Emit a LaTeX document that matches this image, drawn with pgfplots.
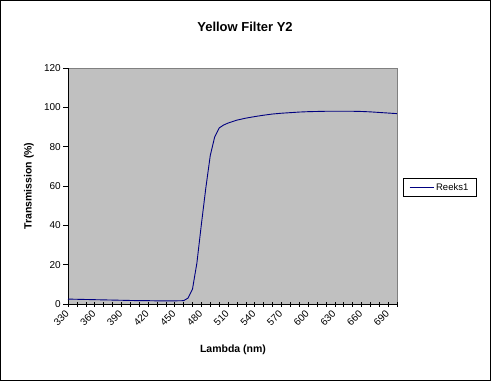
\documentclass[border=0pt]{standalone}
\usepackage{pgfplots}
\pgfplotsset{compat=1.18}
\usepackage{fontspec}
\setmainfont{Liberation Sans}
\definecolor{plotbg}{RGB}{192,192,192}
\definecolor{navyline}{RGB}{0,0,128}
\definecolor{bordergray}{RGB}{128,128,128}
\pgfplotstableread{
x y
330 2.5
340 2.4
350 2.3
360 2.2
370 2.1
380 2.0
390 1.9
400 1.8
410 1.7
420 1.7
430 1.6
440 1.6
450 1.6
460 1.7
465 3.0
470 7.5
475 21
480 40.5
485 59
490 75.5
495 85
500 89.5
505 91
510 92
520 93.5
530 94.5
540 95.3
550 96
560 96.6
570 97
580 97.3
590 97.6
600 97.8
610 97.9
620 98
630 98
640 98
650 98
660 97.9
670 97.7
680 97.4
690 97.1
700 96.8
}\datatable
\begin{document}
\begin{tikzpicture}[x=1pt,y=1pt]
\path[use as bounding box] (0,0) rectangle (491,-381);
\draw[black, line width=0.8pt] (0.5,-0.5) rectangle (490.5,-380.5);
\begin{axis}[
  at={(68pt,-304pt)}, anchor=south west,
  scale only axis, width=329pt, height=236pt,
  xmin=330, xmax=700, ymin=0, ymax=120,
  xtick={330,360,...,690}, minor xtick={330,340,...,700},
  ytick={0,20,...,120},
  axis x line*=bottom, axis y line*=left,
  axis line style={-, black, line width=0.6pt},
  axis background/.style={fill=plotbg, draw=bordergray, line width=0.6pt},
  xtick align=center, ytick align=outside,
  major tick length=5pt, minor tick length=5pt,
  every tick/.style={black, line width=0.5pt},
  tick label style={font=\fontsize{10}{12}\selectfont},
  xticklabel style={rotate=45, anchor=east, inner sep=1pt},
  xticklabel shift=5pt,
  yticklabel style={inner sep=2pt},
  /pgf/number format/assume math mode=true,
  scaled ticks=false,
  clip=false,
  legend style={at={(1.018,0.494)}, anchor=west, draw=black, fill=white,
    font=\fontsize{9.5}{11}\selectfont, inner xsep=6pt, inner ysep=3pt,
    line width=0.6pt},
  legend image code/.code={\draw[#1, line width=0.9pt] (0pt,0pt) -- (24pt,0pt);},
]
\addplot[navyline, line width=0.9pt] table[x=x,y=y] {\datatable};
\addlegendentry{Reeks1\hspace{8pt}}
\end{axis}
\node[font=\bfseries\fontsize{13}{15}\selectfont] at (245,-27) {Yellow Filter Y2};
\node[font=\bfseries\fontsize{10.5}{12}\selectfont] at (233,-350) {Lambda (nm)};
\node[font=\bfseries\fontsize{10.5}{12}\selectfont, rotate=90] at (29,-186) {Transmission (\%)};
\end{tikzpicture}
\end{document}
